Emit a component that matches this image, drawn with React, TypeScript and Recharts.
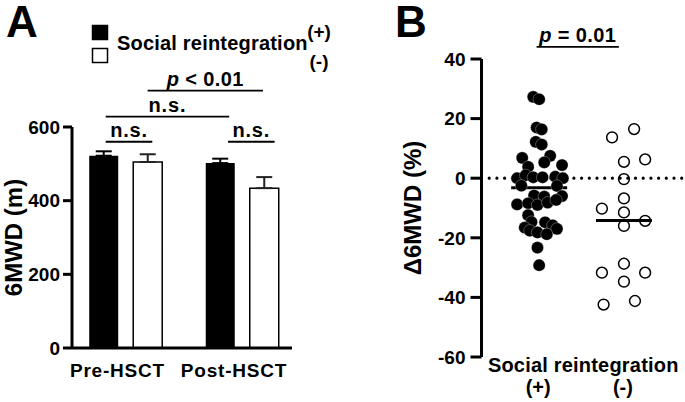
import React from 'react';
import {
  BarChart,
  Bar,
  XAxis,
  YAxis,
  ErrorBar,
  ReferenceLine,
  Legend,
  ScatterChart,
  Scatter,
} from 'recharts';

const FONT = '"Liberation Sans", Arial, Helvetica, sans-serif';
const INK = '#000';

// ---- panel A: 6MWD by phase ----
const phases = ['Pre-HSCT', 'Post-HSCT'];
const phasePos = [1, 2];
const meanWith = [522, 502];
const meanWithout = [505, 434];
const semWith = [12, 12];
const semWithout = [21, 30];
const distanceTicks = [0, 200, 400, 600];

// significance brackets, x in phase units (Pre = 1, Post = 2), y in metres
const bracketText = ['n.s.', 'n.s.', 'n.s.', 'p < 0.01'];
const bracketFrom = [0.83, 1.88, 0.83, 1.19];
const bracketTo = [1.23, 2.28, 1.89, 2.18];
const bracketAt = [560, 560, 628, 699];

// ---- panel B: change in 6MWD (%) ----
const plusX = [0.93, 1.0, 0.97, 1.03, 0.96, 1.03, 0.8, 1.13, 1.06, 0.87, 1.27, 0.74, 0.84, 0.93, 1.04, 1.19, 1.28, 0.79, 1.21, 0.94, 1.06, 1.27, 0.74, 0.87, 0.98, 1.1, 1.2, 0.87, 0.91, 1.07, 0.83, 1.16, 1.21, 0.89, 0.98, 1.09, 0.98, 1.0];
const plusDelta = [27.3, 26.5, 17.0, 16.4, 12.2, 11.3, 6.8, 7.5, 5.3, 3.8, 4.4, 0.0, 1.0, 0.3, 0.3, 0.5, 0.0, -2.5, -2.6, -5.8, -6.2, -6.0, -8.8, -8.4, -9.0, -8.2, -7.3, -12.4, -14.7, -14.8, -16.6, -15.8, -17.0, -17.6, -18.2, -18.8, -23.3, -29.2];
const minusX = [1.86, 2.12, 2.0, 2.25, 2.0, 2.0, 1.74, 2.0, 2.0, 2.25, 2.0, 1.74, 2.25, 2.0, 1.76, 2.13];
const minusDelta = [13.7, 16.5, 5.5, 6.3, -0.3, -6.8, -10.2, -11.5, -16.0, -14.3, -28.7, -31.7, -31.7, -34.7, -42.4, -41.2];
const groupTicks = [1, 2];
const groupNames = ['(+)', '(-)'];
const deltaTicks = [-60, -40, -20, 0, 20, 40];

const barData = phases.map((phase, i) => ({
  phase,
  pos: phasePos[i],
  plus: meanWith[i],
  minus: meanWithout[i],
  plusErr: [0, semWith[i]],
  minusErr: [0, semWithout[i]],
}));

const plusPoints = plusX.map((x, i) => ({ x, y: plusDelta[i] }));
const minusPoints = minusX.map((x, i) => ({ x, y: minusDelta[i] }));
const mean = (a: number[]) => a.reduce((s, v) => s + v, 0) / a.length;
const groupMeans = [mean(plusDelta), mean(minusDelta)];

const txt = { fontFamily: FONT, fontWeight: 700, fill: INK } as const;

function AxisTitle({ viewBox, text, dx }: any) {
  const x = viewBox.x + dx;
  const y = viewBox.y + viewBox.height / 2;
  return (
    <text x={x} y={y} transform={`rotate(-90 ${x} ${y})`} textAnchor="middle" fontSize={24} {...txt}>
      {text}
    </text>
  );
}

function BracketLabel({ viewBox, text }: any) {
  const cx = viewBox.x + viewBox.width / 2;
  const y = viewBox.y - 5;
  if (text.startsWith('p')) {
    return (
      <text x={cx} y={y} textAnchor="middle" fontSize={20} letterSpacing={0.4} {...txt}>
        <tspan fontStyle="italic">p</tspan>
        {text.slice(1)}
      </text>
    );
  }
  return (
    <text x={cx} y={y} textAnchor="middle" fontSize={20} letterSpacing={0.8} {...txt}>
      {text}
    </text>
  );
}

function PhaseTick({ x, y, payload }: any) {
  const i = phasePos.indexOf(payload.value);
  return (
    <text x={x - 8} y={y + 29} textAnchor="middle" fontSize={19} letterSpacing={0.8} {...txt}>
      {phases[i]}
    </text>
  );
}

function GroupTick({ x, y, payload }: any) {
  const i = groupTicks.indexOf(payload.value);
  return (
    <text x={x - 1} y={y + 37} textAnchor="middle" fontSize={20} {...txt}>
      {groupNames[i]}
    </text>
  );
}

function LegendBox({ payload }: any) {
  return (
    <svg width={340} height={80}>
      {(payload || []).map((entry: any, i: number) => (
        <rect key={entry.value} x={92.5} y={25.5 + i * 23} width={15} height={14} fill={entry.color} stroke={INK} strokeWidth={1.5} />
      ))}
      <text x={117} y={50} fontSize={20} letterSpacing={0.2} {...txt}>Social reintegration</text>
      {(payload || []).map((entry: any, i: number) => (
        <text key={'t' + entry.value} x={319} y={38 + i * 30} textAnchor="middle" fontSize={19} {...txt}>
          {entry.value}
        </text>
      ))}
    </svg>
  );
}

const filledDot = (p: any) => <circle cx={p.cx} cy={p.cy} r={6.1} fill={INK} stroke="#fff" strokeOpacity={0.5} strokeWidth={0.6} />;
const openDot = (p: any) => <circle cx={p.cx} cy={p.cy} r={5.4} fill="none" stroke={INK} strokeWidth={1.5} />;

function PanelA() {
  return (
    <BarChart width={340} height={402} data={barData} margin={{ top: 127, right: 48, bottom: 24, left: 0 }} barSize={29} barGap={15}>
      <XAxis
        type="number"
        dataKey="pos"
        domain={[0.541, 2.429]}
        allowDataOverflow
        ticks={phasePos}
        axisLine={{ stroke: INK, strokeWidth: 3 }}
        tickLine={false}
        tickSize={0}
        tickMargin={0}
        height={30}
        interval={0}
        tick={<PhaseTick />}
      />
      <YAxis
        domain={[0, 600]}
        ticks={distanceTicks}
        width={72}
        axisLine={{ stroke: INK, strokeWidth: 3 }}
        tickLine={{ stroke: INK, strokeWidth: 3 }}
        tickSize={9}
        tickMargin={3}
        tick={{ fontSize: 19, fontWeight: 700, fill: INK, fontFamily: FONT }}
        label={{ content: (p: any) => <AxisTitle viewBox={p.viewBox} text="6MWD (m)" dx={21.5} /> }}
      />
      <Legend
        verticalAlign="middle"
        align="center"
        layout="horizontal"
        content={<LegendBox />}
        wrapperStyle={{ position: 'absolute', left: 0, top: 0, width: 340, height: 80 }}
      />
      <Bar dataKey="plus" name="(+)" fill={INK} isAnimationActive={false}>
        <ErrorBar dataKey="plusErr" direction="y" width={8} stroke={INK} strokeWidth={2} />
      </Bar>
      <Bar dataKey="minus" name="(-)" fill="#fff" stroke={INK} strokeWidth={1.5} isAnimationActive={false}>
        <ErrorBar dataKey="minusErr" direction="y" width={8} stroke="#222" strokeWidth={2} />
      </Bar>
      {bracketText.map((t, i) => (
        <ReferenceLine
          key={i}
          segment={[
            { x: bracketFrom[i], y: bracketAt[i] },
            { x: bracketTo[i], y: bracketAt[i] },
          ]}
          stroke={INK}
          strokeWidth={1.8}
          ifOverflow="visible"
          label={{ content: (p: any) => <BracketLabel viewBox={p.viewBox} text={t} /> }}
        />
      ))}
    </BarChart>
  );
}

function PanelB() {
  return (
    <ScatterChart width={305} height={402} margin={{ top: 59, right: 0, bottom: 0, left: 0 }}>
      <XAxis
        type="number"
        dataKey="x"
        domain={[0.32, 2.72]}
        allowDataOverflow
        ticks={groupTicks}
        axisLine={false}
        tickLine={false}
        tickSize={0}
        tickMargin={0}
        height={45}
        tick={<GroupTick />}
        label={{
          content: (p: any) => (
            <text x={p.viewBox.x + p.viewBox.width / 2} y={p.viewBox.y + 15} textAnchor="middle" fontSize={20} letterSpacing={0.2} {...txt}>
              Social reintegration
            </text>
          ),
        }}
      />
      <YAxis
        type="number"
        dataKey="y"
        domain={[-60, 40]}
        ticks={deltaTicks}
        width={101.5}
        axisLine={{ stroke: INK, strokeWidth: 3 }}
        tickLine={{ stroke: INK, strokeWidth: 3 }}
        tickSize={11}
        tickMargin={5}
        tick={{ fontSize: 19, fontWeight: 700, fill: INK, fontFamily: FONT }}
        label={{ content: (p: any) => <AxisTitle viewBox={p.viewBox} text="Δ6MWD (%)" dx={40.5} /> }}
      />
      <ReferenceLine y={0} stroke={INK} strokeWidth={3.2} strokeDasharray="0 7.7" strokeLinecap="round" />
      <Scatter data={plusPoints} shape={filledDot} isAnimationActive={false} />
      <Scatter data={minusPoints} shape={openDot} isAnimationActive={false} />
      {groupTicks.map((g, i) => (
        <ReferenceLine
          key={g}
          segment={[
            { x: g - 0.33, y: groupMeans[i] },
            { x: g + 0.33, y: groupMeans[i] },
          ]}
          stroke={INK}
          strokeWidth={3}
        />
      ))}
      <ReferenceLine
        segment={[
          { x: 0.97, y: 44.1 },
          { x: 1.94, y: 44.1 },
        ]}
        stroke={INK}
        strokeWidth={1.8}
        ifOverflow="visible"
        label={{ content: (p: any) => <BracketLabel viewBox={p.viewBox} text="p = 0.01" /> }}
      />
    </ScatterChart>
  );
}

export default function App() {
  return (
    <div style={{ position: 'absolute', left: 0, top: 0, width: 685, height: 402, background: '#fff' }}>
      <div style={{ position: 'absolute', left: 0, top: 0 }}>
        <PanelA />
      </div>
      <div style={{ position: 'absolute', left: 380, top: 0 }}>
        <PanelB />
      </div>
      <svg width={685} height={402} style={{ position: 'absolute', left: 0, top: 0, pointerEvents: 'none' }}>
        <text x={6} y={37} fontSize={44} {...txt}>A</text>
        <text x={395} y={37} fontSize={44} {...txt}>B</text>
      </svg>
    </div>
  );
}
